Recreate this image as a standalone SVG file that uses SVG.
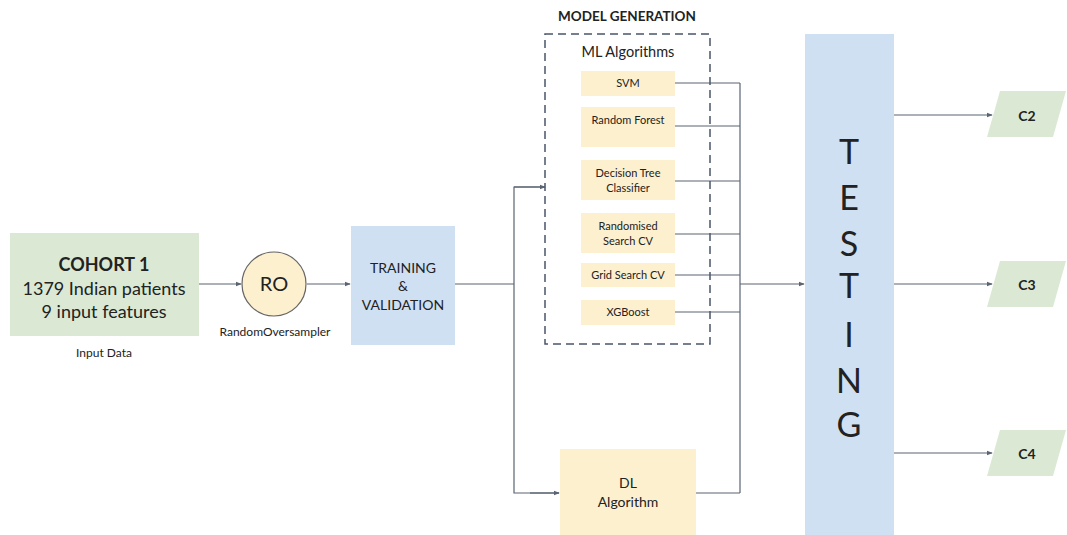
<svg xmlns="http://www.w3.org/2000/svg" width="1067" height="535" viewBox="0 0 1067 535">
<defs>
<marker id="ah" viewBox="0 0 8 8" refX="7" refY="4" markerWidth="6" markerHeight="6" orient="auto" markerUnits="userSpaceOnUse">
<path d="M0,1 L8,4 L0,7 z" fill="#5a6472"/>
</marker>
<style>
.t{font-family:Lato,"Liberation Sans",sans-serif;fill:#222;text-anchor:middle}
.ln{fill:none;stroke:#5a6472;stroke-width:1.2}
.ml{fill:#fdf0cf}
.g{fill:#dbe9d4}
.b{fill:#cfe0f3}
</style>
</defs>
<rect width="1067" height="535" fill="#fff"/>

<g id="connectors">
<line class="ln" x1="199" y1="284" x2="241" y2="284" marker-end="url(#ah)"/>
<line class="ln" x1="307" y1="284" x2="350" y2="284" marker-end="url(#ah)"/>
<line class="ln" x1="455" y1="284" x2="514" y2="284"/>
<polyline class="ln" points="544,187 514,187 514,493 559,493" />
<line class="ln" x1="514" y1="187" x2="545" y2="187" marker-end="url(#ah)"/>
<line class="ln" x1="530" y1="493" x2="559" y2="493" marker-end="url(#ah)"/>
<line class="ln" x1="675" y1="83" x2="740" y2="83"/>
<line class="ln" x1="675" y1="126" x2="740" y2="126"/>
<line class="ln" x1="675" y1="181" x2="740" y2="181"/>
<line class="ln" x1="675" y1="234" x2="740" y2="234"/>
<line class="ln" x1="675" y1="275" x2="740" y2="275"/>
<line class="ln" x1="675" y1="312" x2="740" y2="312"/>
<line class="ln" x1="696" y1="493" x2="740" y2="493"/>
<line class="ln" x1="740" y1="83" x2="740" y2="493"/>
<line class="ln" x1="740" y1="284" x2="804" y2="284" marker-end="url(#ah)"/>
<line class="ln" x1="894" y1="115" x2="992" y2="115" marker-end="url(#ah)"/>
<line class="ln" x1="894" y1="284" x2="992" y2="284" marker-end="url(#ah)"/>
<line class="ln" x1="894" y1="453" x2="992" y2="453" marker-end="url(#ah)"/>
</g>

<g id="cohort">
<rect class="g" x="10" y="233" width="189" height="103"/>
<text class="t" x="104" y="271" font-size="18" font-weight="bold">COHORT 1</text>
<text class="t" x="104" y="295" font-size="18">1379 Indian patients</text>
<text class="t" x="104" y="318" font-size="18">9 input features</text>
<text class="t" x="104" y="357" font-size="12">Input Data</text>
</g>

<g id="ro">
<circle cx="274" cy="284" r="32" fill="#fdf0cf" stroke="#666" stroke-width="1.2"/>
<text class="t" x="274" y="291" font-size="20">RO</text>
<text class="t" x="275" y="336" font-size="12">RandomOversampler</text>
</g>

<g id="training">
<rect class="b" x="351" y="226" width="104" height="119"/>
<text class="t" x="403" y="273" font-size="14">TRAINING</text>
<text class="t" x="403" y="291" font-size="14">&amp;</text>
<text class="t" x="403" y="310" font-size="14">VALIDATION</text>
</g>

<g id="model-generation">
<text class="t" x="627" y="21" font-size="13.5" font-weight="bold">MODEL GENERATION</text>
<rect x="545" y="34" width="165" height="310" fill="none" stroke="#4a5568" stroke-width="1.5" stroke-dasharray="8,5"/>
<text class="t" x="628" y="57" font-size="14.5">ML Algorithms</text>
</g>

<g id="svm">
<rect class="ml" x="581" y="71" width="94" height="25"/>
<text class="t" x="628" y="87" font-size="11">SVM</text>
</g>
<g id="random-forest">
<rect class="ml" x="581" y="107" width="94" height="40"/>
<text class="t" x="628" y="124" font-size="11">Random Forest</text>
</g>
<g id="decision-tree">
<rect class="ml" x="581" y="160" width="94" height="40"/>
<text class="t" x="628" y="177" font-size="11">Decision Tree</text>
<text class="t" x="628" y="192" font-size="11">Classifier</text>
</g>
<g id="randomised-search">
<rect class="ml" x="581" y="213" width="94" height="40"/>
<text class="t" x="628" y="230" font-size="11">Randomised</text>
<text class="t" x="628" y="245" font-size="11">Search CV</text>
</g>
<g id="grid-search">
<rect class="ml" x="581" y="263" width="94" height="24"/>
<text class="t" x="628" y="279" font-size="11">Grid Search CV</text>
</g>
<g id="xgboost">
<rect class="ml" x="581" y="300" width="94" height="25"/>
<text class="t" x="628" y="316" font-size="11">XGBoost</text>
</g>

<g id="dl">
<rect class="ml" x="560" y="449" width="136" height="90"/>
<text class="t" x="628" y="488" font-size="14">DL</text>
<text class="t" x="628" y="507" font-size="14">Algorithm</text>
</g>

<g id="testing">
<rect class="b" x="805" y="34" width="89" height="505"/>
<g font-size="34">
<text class="t" x="849" y="164">T</text>
<text class="t" x="849" y="210">E</text>
<text class="t" x="849" y="256">S</text>
<text class="t" x="849" y="298">T</text>
<text class="t" x="849" y="347">I</text>
<text class="t" x="849" y="393">N</text>
<text class="t" x="849" y="437">G</text>
</g>
</g>

<g id="c2">
<polygon class="g" points="1000,91 1066,91 1053,137 987,137"/>
<text class="t" x="1027" y="121" font-size="14" font-weight="bold">C2</text>
</g>
<g id="c3">
<polygon class="g" points="1000,261 1066,261 1053,307 987,307"/>
<text class="t" x="1027" y="290" font-size="14" font-weight="bold">C3</text>
</g>
<g id="c4">
<polygon class="g" points="1000,430 1066,430 1053,476 987,476"/>
<text class="t" x="1027" y="459" font-size="14" font-weight="bold">C4</text>
</g>
</svg>
